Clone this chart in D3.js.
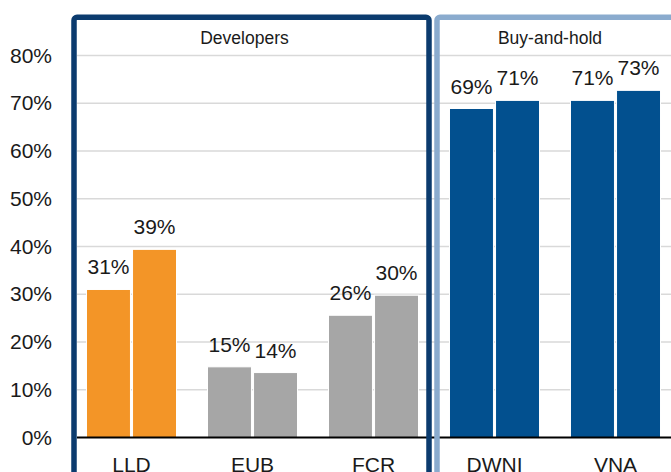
<!DOCTYPE html>
<html>
<head>
<meta charset="utf-8">
<script src="https://cdn.jsdelivr.net/npm/d3@7"></script>
<style>
  html, body { margin: 0; padding: 0; background: white; }
  text { font-family: "Liberation Sans", Arial, sans-serif; fill: #1a1a1a; }
</style>
</head>
<body>
<div id="container"></div>
<script>
let w = 671;
let h = 472;

// chart data
let categories = ["LLD", "EUB", "FCR", "DWNI", "VNA"];
let seriesA = [31.0, 14.8, 25.6, 68.9, 70.6];
let seriesB = [39.4, 13.6, 29.8, 70.6, 72.7];
let yTicks = [0, 10, 20, 30, 40, 50, 60, 70, 80];
let groupNames = ["Developers", "Buy-and-hold"];
let groupMembers = [["LLD", "EUB", "FCR"], ["DWNI", "VNA"]];

let barColor = {LLD: "#f39527", EUB: "#a6a6a6", FCR: "#a6a6a6", DWNI: "#02508f", VNA: "#02508f"};

let viz = d3.select("#container")
  .append("svg")
    .attr("width", w)
    .attr("height", h)
    .style("display", "block")
;

// scales
let xScale = d3.scaleBand().domain(categories).range([71, 676])
  .paddingInner(0.256).paddingOuter(0.128);
let subScale = d3.scaleBand().domain(["a", "b"]).range([0, xScale.bandwidth()])
  .paddingInner(0.045);
let yScale = d3.scaleLinear().domain([0, 80]).range([437.5, 55.5]);

// gridlines
viz.append("g").attr("class", "grid")
  .selectAll("line").data(yTicks.slice(1)).enter()
  .append("line")
    .attr("x1", 77).attr("x2", w)
    .attr("y1", d => yScale(d)).attr("y2", d => yScale(d))
    .attr("stroke", "#d9d9d9").attr("stroke-width", 1.5)
;

// y axis labels
let yAxis = d3.axisLeft(yScale).tickValues(yTicks)
  .tickFormat(d => d + "%").tickSize(0).tickPadding(0);
let yAxisGroup = viz.append("g").attr("class", "yaxis")
  .attr("transform", "translate(52,0)")
  .call(yAxis);
yAxisGroup.select(".domain").remove();
yAxisGroup.selectAll("text")
  .attr("font-size", 21).attr("font-family", "Liberation Sans, Arial, sans-serif")
  .attr("fill", "#1a1a1a");

// bars
let rows = categories.map((c, i) => ({cat: c, a: seriesA[i], b: seriesB[i]}));
let groups = viz.append("g").attr("class", "bars")
  .selectAll(".datagroup").data(rows).enter()
  .append("g").attr("class", "datagroup")
  .attr("transform", d => "translate(" + xScale(d.cat) + ",0)");

groups.selectAll("rect")
  .data(d => [{k: "a", v: d.a, cat: d.cat}, {k: "b", v: d.b, cat: d.cat}])
  .enter().append("rect")
    .attr("x", d => subScale(d.k))
    .attr("width", subScale.bandwidth())
    .attr("y", d => yScale(d.v))
    .attr("height", d => yScale(0) - yScale(d.v))
    .attr("fill", d => barColor[d.cat])
    .attr("stroke", "white").attr("stroke-width", 1)
;

groups.selectAll("text.val")
  .data(d => [{k: "a", v: d.a}, {k: "b", v: d.b}])
  .enter().append("text").attr("class", "val")
    .attr("x", d => subScale(d.k) + subScale.bandwidth() / 2)
    .attr("y", d => yScale(d.v) - 15)
    .attr("text-anchor", "middle")
    .attr("font-size", 21)
    .text(d => Math.round(d.v) + "%")
;

// baseline
viz.append("line")
  .attr("x1", 77).attr("x2", w)
  .attr("y1", yScale(0)).attr("y2", yScale(0))
  .attr("stroke", "black").attr("stroke-width", 2);

// category labels
let xAxis = d3.axisBottom(xScale).tickSize(0).tickPadding(0);
let xAxisGroup = viz.append("g").attr("class", "xaxis")
  .attr("transform", "translate(0,455)")
  .call(xAxis);
xAxisGroup.select(".domain").remove();
xAxisGroup.selectAll("text")
  .attr("dy", "0.82em")
  .attr("font-size", 21).attr("font-family", "Liberation Sans, Arial, sans-serif")
  .attr("fill", "#1a1a1a");

// group boxes
let step = xScale.step();
let divider = xScale("DWNI") - step * 0.128;
let boxes = [
  {name: groupNames[0], x0: xScale(groupMembers[0][0]) - step * 0.128 + 3, x1: divider - 5, color: "#0b3b6e"},
  {name: groupNames[1], x0: divider + 3, x1: xScale("VNA") + xScale.bandwidth() + step * 0.128 + 1, color: "#8aabce"}
];
let boxG = viz.append("g").attr("class", "boxes");
boxG.selectAll("rect").data(boxes).enter()
  .append("rect")
    .attr("x", d => d.x0).attr("y", 17.3)
    .attr("width", d => d.x1 - d.x0).attr("height", 500)
    .attr("rx", 3)
    .attr("fill", "none")
    .attr("stroke", d => d.color).attr("stroke-width", 5.5)
;
boxG.selectAll("text").data(boxes).enter()
  .append("text")
    .attr("x", d => (d.x0 + d.x1) / 2 - 7)
    .attr("y", 44)
    .attr("text-anchor", "middle")
    .attr("font-size", 17.5)
    .text(d => d.name)
;
</script>
</body>
</html>
